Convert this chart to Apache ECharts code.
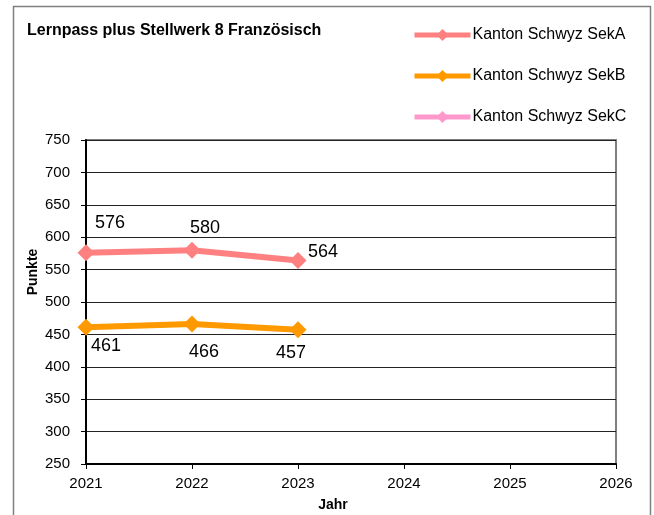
<!DOCTYPE html>
<html>
<head>
<meta charset="utf-8">
<script src="https://cdn.jsdelivr.net/npm/echarts@6/dist/echarts.min.js"></script>
<style>
  html, body { margin: 0; padding: 0; background: #fff; }
  #chart { width: 654px; height: 515px; }
</style>
</head>
<body>
<div id="chart"></div>
<script>
const years = ['2021', '2022', '2023', '2024', '2025', '2026']
const sekA = [576, 580, 564, null, null, null]
const sekB = [461, 466, 457, null, null, null]
const sekC = [null, null, null, null, null, null]
const yTicks = [250, 300, 350, 400, 450, 500, 550, 600, 650, 700, 750]

// label offsets relative to the point (px)
const offA = [[24, -30], [13, -22], [25, -8]]
const offB = [[20, 19], [12, 28], [-7, 23]]

const withLabels = (vals, offs) => vals.map((v, i) => {
  if (v == null) return v
  return { value: v, label: { offset: offs[i] } }
})

const Chart = echarts.init(document.getElementById('chart'))

const labelStyle = {
  show: true,
  position: 'inside',
  fontFamily: 'Liberation Sans, Arial',
  fontSize: 18,
  color: '#000'
}

const option = {
  animation: false,
  textStyle: { fontFamily: 'Liberation Sans, Arial' },
  title: {
    text: 'Lernpass plus Stellwerk 8 Französisch',
    left: 22,
    top: 18,
    textStyle: { fontSize: 16, fontWeight: 'bold', color: '#000', fontFamily: 'Liberation Sans, Arial' }
  },
  legend: {
    orient: 'vertical',
    left: 407,
    top: 22,
    itemGap: 25,
    itemWidth: 56,
    itemHeight: 15,
    lineStyle: { width: 5 },
    itemStyle: { borderWidth: 0 },
    textStyle: { fontSize: 16, color: '#000', padding: [0, 0, 0, -3] },
    data: ['Kanton Schwyz SekA', 'Kanton Schwyz SekB', 'Kanton Schwyz SekC']
  },
  graphic: [
    {
      type: 'rect',
      shape: { x: 13.5, y: 6.5, width: 637, height: 520 },
      style: { fill: 'none', stroke: '#808080', lineWidth: 1.5 },
      silent: true
    },
    {
      // y axis title
      type: 'text',
      x: 33,
      y: 272,
      rotation: Math.PI / 2,
      style: {
        text: 'Punkte',
        fontSize: 14,
        fontWeight: 'bold',
        fontFamily: 'Liberation Sans, Arial',
        fill: '#000',
        align: 'center',
        verticalAlign: 'middle'
      },
      silent: true
    }
  ],
  grid: {
    left: 86,
    right: 38,
    top: 140,
    bottom: 51,
    outerBoundsMode: 'none',
    show: true,
    borderColor: '#808080',
    borderWidth: 2
  },
  xAxis: {
    type: 'category',
    data: years,
    boundaryGap: false,
    name: 'Jahr',
    nameLocation: 'middle',
    nameGap: 34,
    nameTextStyle: { fontSize: 14, fontWeight: 'bold', color: '#000', padding: [0, 36, 0, 0] },
    axisLine: { lineStyle: { color: '#000', width: 2 } },
    axisTick: { show: true, length: 5, lineStyle: { color: '#000' } },
    axisLabel: { fontSize: 15, color: '#000', margin: 12 },
    splitLine: { show: false }
  },
  yAxis: {
    type: 'value',
    min: yTicks[0],
    max: yTicks[yTicks.length - 1],
    interval: 50,
    axisLine: { show: true, lineStyle: { color: '#000', width: 2 } },
    axisTick: { show: true, length: 5, lineStyle: { color: '#000' } },
    axisLabel: { fontSize: 15, color: '#000', margin: 16 },
    splitLine: { show: true, lineStyle: { color: '#222', width: 1 } }
  },
  series: [
    {
      name: 'Kanton Schwyz SekA',
      type: 'line',
      data: withLabels(sekA, offA),
      symbol: 'diamond',
      symbolSize: 17,
      color: '#FF8080',
      lineStyle: { width: 6, color: '#FF8080' },
      label: labelStyle
    },
    {
      name: 'Kanton Schwyz SekB',
      type: 'line',
      data: withLabels(sekB, offB),
      symbol: 'diamond',
      symbolSize: 17,
      color: '#FF9900',
      lineStyle: { width: 6, color: '#FF9900' },
      label: labelStyle
    },
    {
      name: 'Kanton Schwyz SekC',
      type: 'line',
      data: sekC,
      symbol: 'diamond',
      symbolSize: 17,
      color: '#FF99CC',
      lineStyle: { width: 6, color: '#FF99CC' }
    }
  ]
}

Chart.setOption(option)
</script>
</body>
</html>
